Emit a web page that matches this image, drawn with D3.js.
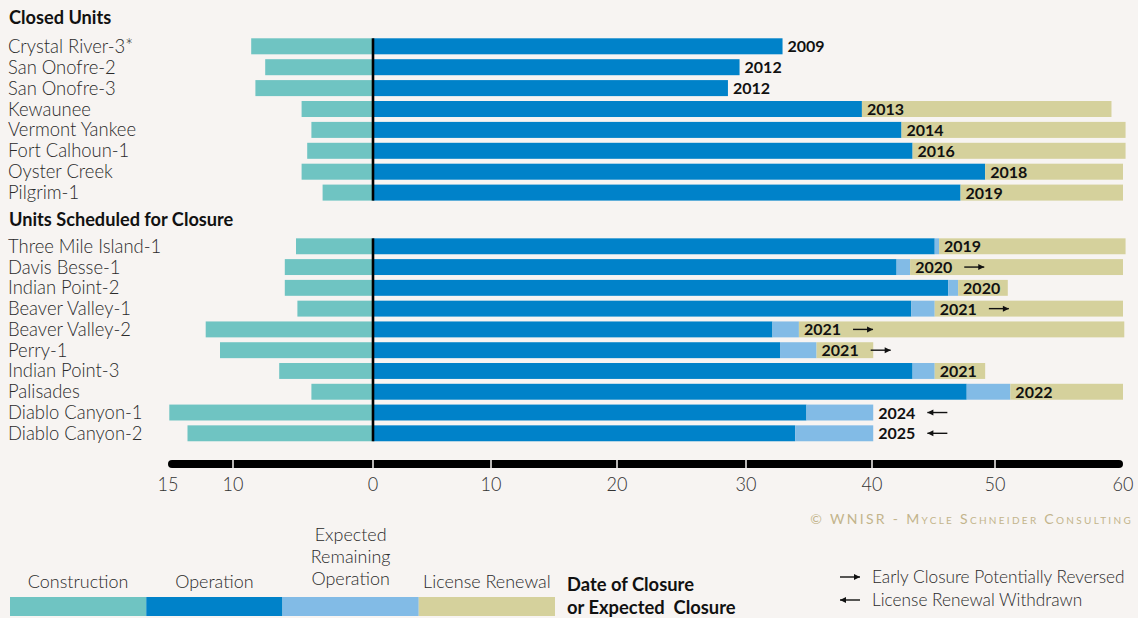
<!DOCTYPE html>
<html><head><meta charset="utf-8">
<script src="https://cdn.jsdelivr.net/npm/d3@7"></script>
<style>
html,body{margin:0;padding:0;background:#f7f4f2;}
svg{display:block;}
text{font-family:Lato,"Open Sans",sans-serif;}
</style></head><body>
<svg id="chart" width="1138" height="618"></svg>
<script>
// ---------------- DATA ----------------
const closedNames = ["Crystal River-3*","San Onofre-2","San Onofre-3","Kewaunee","Vermont Yankee","Fort Calhoun-1","Oyster Creek","Pilgrim-1"];
const closedConstruction = [8.7, 7.7, 8.4, 5.1, 4.4, 4.7, 5.1, 3.6];
const closedOperation = [32.9, 29.5, 28.6, 39.2, 42.4, 43.3, 49.2, 47.2];
const closedRenewal = [0, 0, 0, 19.9, 17.8, 16.9, 10.8, 12.8];
const closedYear = ["2009","2012","2012","2013","2014","2016","2018","2019"];

const schedNames = ["Three Mile Island-1","Davis Besse-1","Indian Point-2","Beaver Valley-1","Beaver Valley-2","Perry-1","Indian Point-3","Palisades","Diablo Canyon-1","Diablo Canyon-2"];
const schedConstruction = [5.5, 6.3, 6.3, 5.4, 12.1, 11.0, 6.7, 4.4, 14.9, 13.5];
const schedOperation = [45.1, 42.0, 46.2, 43.2, 32.1, 32.7, 43.3, 47.7, 34.8, 33.9];
const schedExpected = [0.35, 1.1, 0.8, 1.9, 2.1, 2.9, 1.8, 3.5, 5.3, 6.2];
const schedRenewal = [14.75, 16.9, 4.0, 14.9, 25.9, 4.5, 4.1, 8.8, 0, 0];
const schedYear = ["2019","2020","2020","2021","2021","2021","2021","2022","2024","2025"];
const schedArrow = ["","right","","right","right","right","","","left","left"];

const axisTicks = [-15,-10,0,10,20,30,40,50,60];
const axisTickLabels = ["15","10","0","10","20","30","40","50","60"];
const gridTicks = [-10,0,10,20,30,40,50];

const legendKeys = ["Construction","Operation","Expected Remaining Operation","License Renewal"];
const legendLines = [["Construction"],["Operation"],["Expected","Remaining","Operation"],["License Renewal"]];
const arrowLegend = [["right","Early Closure Potentially Reversed"],["left","License Renewal Withdrawn"]];

// ---------------- STYLE ----------------
const colors = {construction:"#6fc4c2", operation:"#0082c9", expected:"#82bbe6", renewal:"#d5d19c"};
const legendColors = [colors.construction, colors.operation, colors.expected, colors.renewal];
const SX = 0.97;
const svg = d3.select("#chart");

const x = d3.scaleLinear().domain(axisTicks).range([168,233,373,491,617,746,872,995,1123]);

function ctext(g, tx, ty, str, opts) {
  const t = g.append("text")
    .attr("transform", `translate(${tx},${ty}) scale(${opts.sx||SX},1)`)
    .attr("font-size", opts.size||19)
    .attr("font-weight", opts.weight||300)
    .attr("fill", opts.fill||"#2a2a2a")
    .attr("text-anchor", opts.anchor||"start")
    .style("white-space","pre")
    .text(str);
  if (opts.ls) t.attr("letter-spacing", opts.ls);
  if (opts.variant) t.style("font-variant", opts.variant);
  return t;
}

function drawGroup(title, titleY, names, cons, op, exp, ren, years, arrows, range) {
  const y = d3.scaleBand().domain(names).range(range).paddingInner(0.234).paddingOuter(0.117);
  const g = svg.append("g");
  ctext(g, 9, titleY, title, {size:18, weight:700, fill:"#111", sx:1.01});
  names.forEach((n,i) => {
    const top = y(n), h = y.bandwidth(), cy = top + h/2;
    ctext(g, 8, cy + 6.5, n, {});
    const e = exp ? exp[i] : 0;
    const segs = [
      [-cons[i], 0, colors.construction],
      [0, op[i], colors.operation],
      [op[i], op[i]+e, colors.expected],
      [op[i]+e, op[i]+e+ren[i], colors.renewal]
    ];
    segs.forEach(s => {
      if (s[1] - s[0] <= 0) return;
      g.append("rect").attr("x", x(s[0])).attr("y", top)
        .attr("width", x(s[1]) - x(s[0])).attr("height", h).attr("fill", s[2]);
    });
    const lx = x(op[i]+e) + 5;
    const t = g.append("text").attr("x", lx).attr("y", cy + 6)
      .attr("font-size", 16).attr("font-weight", 700).attr("fill", "#111").text(years[i]);
    if (arrows && arrows[i]) {
      const bb = t.node().getBBox();
      drawArrow(g, bb.x + bb.width + 12, cy, 20, arrows[i]);
    }
  });
  g.append("line").attr("x1", x(0)).attr("x2", x(0))
    .attr("y1", y(names[0])).attr("y2", y(names[names.length-1]) + y.bandwidth())
    .attr("stroke", "#000").attr("stroke-width", 2.6);
}

function drawArrow(g, x0, cy, len, dir) {
  const x1 = x0 + len;
  g.append("line").attr("x1", x0).attr("x2", x1).attr("y1", cy).attr("y2", cy)
    .attr("stroke", "#111").attr("stroke-width", 1.4);
  const tip = dir === "right" ? x1 : x0;
  const back = dir === "right" ? tip - 6 : tip + 6;
  g.append("path").attr("d", `M${tip},${cy} L${back},${cy-3} L${back},${cy+3} Z`).attr("fill", "#111");
}

drawGroup("Closed Units", 24, closedNames, closedConstruction, closedOperation, null, closedRenewal, closedYear, null, [35.85, 203.05]);
drawGroup("Units Scheduled for Closure", 226, schedNames, schedConstruction, schedOperation, schedExpected, schedRenewal, schedYear, schedArrow, [235.9, 443.7]);

// ---------------- AXIS ----------------
const ax = svg.append("g");
const axY = 464;
ax.append("line").attr("x1", x(-15)+4).attr("x2", x(60)-4).attr("y1", axY).attr("y2", axY)
  .attr("stroke", "#000").attr("stroke-width", 8).attr("stroke-linecap", "round");
ax.selectAll("line.tick").data(gridTicks).join("line").attr("class","tick")
  .attr("x1", d => x(d)).attr("x2", d => x(d)).attr("y1", axY-4.5).attr("y2", axY+4.5)
  .attr("stroke", "#f7f4f2").attr("stroke-width", 1.5);
axisTicks.forEach((d,i) => {
  ctext(ax, x(d), 491, axisTickLabels[i], {size:19, anchor:"middle", fill:"#333", sx:0.95});
});

// copyright
ctext(svg, 1133, 524, "© WNISR - Mycle Schneider Consulting", {size:14, weight:400, fill:"#c3b48c", anchor:"end", sx:1, ls:2.3, variant:"small-caps"});

// ---------------- LEGEND ----------------
const lx = d3.scaleBand().domain(legendKeys).range([10, 555]);
const lg = svg.append("g");
legendKeys.forEach((k,i) => {
  lg.append("rect").attr("x", lx(k)).attr("y", 597).attr("width", lx.bandwidth()).attr("height", 19).attr("fill", legendColors[i]);
  const lines = legendLines[i];
  const base = lines.length > 1 ? 585 : 588;
  lines.forEach((ln, j) => {
    ctext(lg, lx(k) + lx.bandwidth()/2, base - (lines.length-1-j)*22, ln, {size:18.5, anchor:"middle"});
  });
});
ctext(lg, 567, 591, "Date of Closure", {size:18, weight:700, fill:"#111", sx:1.02});
ctext(lg, 567, 614, "or Expected  Closure", {size:18, weight:700, fill:"#111", sx:1.02});

arrowLegend.forEach((a,i) => {
  const cy = i === 0 ? 577 : 600;
  drawArrow(lg, 840, cy, 20, a[0]);
  ctext(lg, 872, cy + 6, a[1], {size:18, sx:0.96});
});
</script>
</body></html>
